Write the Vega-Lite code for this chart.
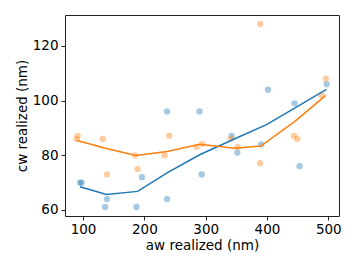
{
  "$schema": "https://vega.github.io/schema/vega-lite/v6.json",
  "autosize": {"type": "none"},
  "padding": {"left": 65, "top": 15, "right": 18, "bottom": 52},
  "width": 274,
  "height": 201,
  "config": {
    "font": "DejaVu Sans",
    "view": {"stroke": "#222222", "strokeWidth": 1},
    "axis": {
      "grid": false,
      "domain": false,
      "tickColor": "#222222",
      "tickSize": 4,
      "labelFontSize": 13.5,
      "labelColor": "#000000",
      "titleFontSize": 13.5,
      "titleFontWeight": "normal",
      "titleColor": "#000000"
    }
  },
  "datasets": {
    "pts": [
      {"aw": 95, "cw": 70, "s": "blue"},
      {"aw": 97.7, "cw": 70, "s": "blue"},
      {"aw": 136, "cw": 61.1, "s": "blue"},
      {"aw": 139, "cw": 64, "s": "blue"},
      {"aw": 187, "cw": 61.1, "s": "blue"},
      {"aw": 196, "cw": 72, "s": "blue"},
      {"aw": 237, "cw": 64, "s": "blue"},
      {"aw": 237, "cw": 96, "s": "blue"},
      {"aw": 290, "cw": 96, "s": "blue"},
      {"aw": 293.5, "cw": 73, "s": "blue"},
      {"aw": 342.4, "cw": 87.1, "s": "blue"},
      {"aw": 351.6, "cw": 81, "s": "blue"},
      {"aw": 390.7, "cw": 84, "s": "blue"},
      {"aw": 401.6, "cw": 104, "s": "blue"},
      {"aw": 445, "cw": 99, "s": "blue"},
      {"aw": 453.3, "cw": 76, "s": "blue"},
      {"aw": 497.4, "cw": 106, "s": "blue"},
      {"aw": 89.6, "cw": 86, "s": "orange"},
      {"aw": 91.2, "cw": 87.1, "s": "orange"},
      {"aw": 132, "cw": 86, "s": "orange"},
      {"aw": 139, "cw": 73, "s": "orange"},
      {"aw": 184.7, "cw": 80, "s": "orange"},
      {"aw": 189, "cw": 75, "s": "orange"},
      {"aw": 233, "cw": 80, "s": "orange"},
      {"aw": 240.6, "cw": 87.1, "s": "orange"},
      {"aw": 285, "cw": 83.1, "s": "orange"},
      {"aw": 294.5, "cw": 84.1, "s": "orange"},
      {"aw": 341.3, "cw": 86.1, "s": "orange"},
      {"aw": 352.2, "cw": 83, "s": "orange"},
      {"aw": 388.6, "cw": 77.1, "s": "orange"},
      {"aw": 389, "cw": 128, "s": "orange"},
      {"aw": 444, "cw": 87.1, "s": "orange"},
      {"aw": 449.5, "cw": 86, "s": "orange"},
      {"aw": 489, "cw": 102, "s": "orange"},
      {"aw": 496, "cw": 108, "s": "orange"}
    ],
    "lines": [
      {"aw": 95, "cw": 68.5, "s": "blue"},
      {"aw": 138, "cw": 65.7, "s": "blue"},
      {"aw": 189, "cw": 66.8, "s": "blue"},
      {"aw": 237, "cw": 73.6, "s": "blue"},
      {"aw": 291, "cw": 80.3, "s": "blue"},
      {"aw": 344, "cw": 85.7, "s": "blue"},
      {"aw": 400, "cw": 91.3, "s": "blue"},
      {"aw": 448, "cw": 97.6, "s": "blue"},
      {"aw": 497, "cw": 104.1, "s": "blue"},
      {"aw": 90, "cw": 85.4, "s": "orange"},
      {"aw": 135, "cw": 82.7, "s": "orange"},
      {"aw": 186, "cw": 79.9, "s": "orange"},
      {"aw": 237, "cw": 81.4, "s": "orange"},
      {"aw": 290, "cw": 84.0, "s": "orange"},
      {"aw": 347, "cw": 82.6, "s": "orange"},
      {"aw": 390, "cw": 83.4, "s": "orange"},
      {"aw": 446, "cw": 92.5, "s": "orange"},
      {"aw": 496, "cw": 101.9, "s": "orange"}
    ]
  },
  "encoding": {
    "x": {
      "field": "aw", "type": "quantitative",
      "scale": {"domain": [70.5, 517.5], "nice": false, "zero": false},
      "axis": {"values": [100, 200, 300, 400, 500], "title": "aw realized (nm)", "labelPadding": 2, "titlePadding": 3}
    },
    "y": {
      "field": "cw", "type": "quantitative",
      "scale": {"domain": [57.8, 131.3], "nice": false, "zero": false},
      "axis": {"values": [60, 80, 100, 120], "title": "cw realized (nm)", "labelPadding": 3, "titlePadding": 3}
    },
    "color": {
      "field": "s", "type": "nominal",
      "scale": {"domain": ["blue", "orange"], "range": ["#1f77b4", "#ff7f0e"]},
      "legend": null
    }
  },
  "layer": [
    {
      "data": {"name": "pts"},
      "mark": {"type": "circle", "size": 40, "opacity": 0.4}
    },
    {
      "data": {"name": "lines"},
      "mark": {"type": "line", "strokeWidth": 1.5},
      "encoding": {"order": {"field": "aw", "type": "quantitative"}}
    }
  ]
}
